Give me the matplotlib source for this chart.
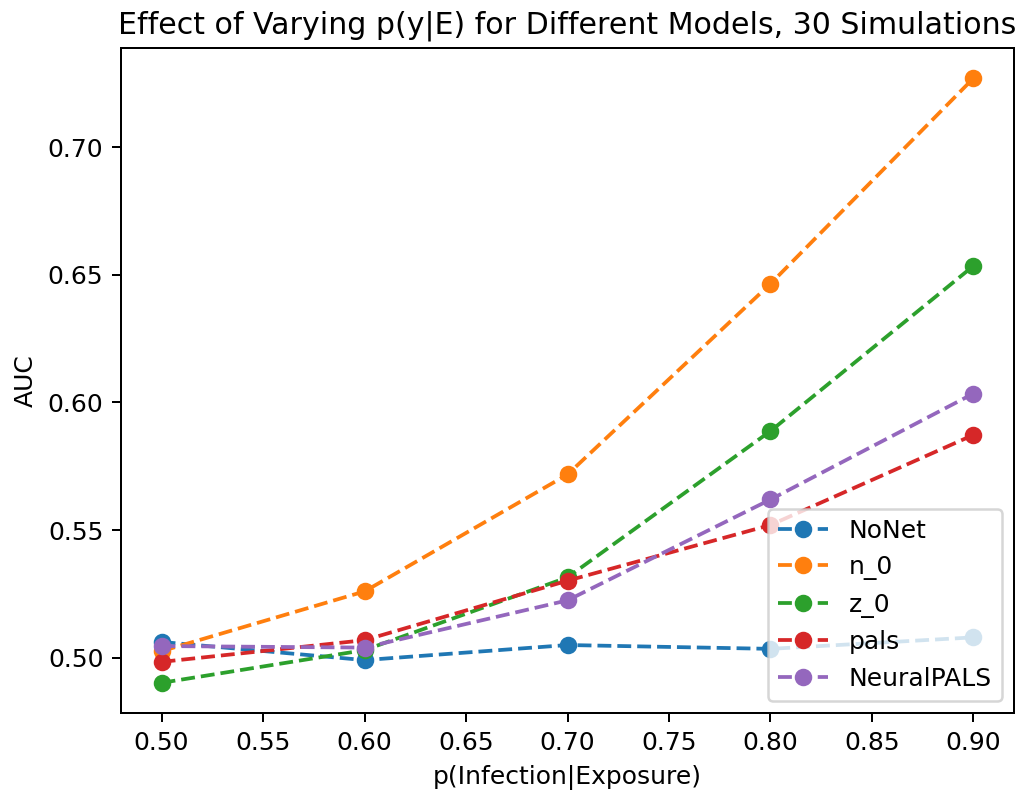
import numpy as np
from matplotlib import pyplot as plt

# p(Infection|Exposure) values and mean AUC for each model
probs = [0.5, 0.6, 0.7, 0.8, 0.9]
nonet = [0.5062, 0.4991, 0.5050, 0.5035, 0.5080]
n_0 = [0.5026, 0.5260, 0.5718, 0.6465, 0.7270]
z_0 = [0.4902, 0.5030, 0.5315, 0.5888, 0.6535]
pals = [0.4984, 0.5069, 0.5302, 0.5520, 0.5873]
neural_pals = [0.5046, 0.5040, 0.5225, 0.5620, 0.6035]

labels = ["NoNet", "n_0", "z_0", "pals", "NeuralPALS"]
series = [nonet, n_0, z_0, pals, neural_pals]

fig = plt.figure(figsize=(1021 / 180, 795 / 180), dpi=180)
ax = fig.add_axes([0.1185, 0.1031, 0.8747, 0.8365])

for lab, vals in zip(labels, series):
    ax.plot(probs, vals, 'o--', label=lab, markersize=6)

ax.set_title("Effect of Varying p(y|E) for Different Models, 30 Simulations")
ax.set_xlabel("p(Infection|Exposure)")
ax.set_ylabel("AUC")
ax.set_xticks(np.arange(0.5, 0.91, 0.05))
ax.set_yticks([0.50, 0.55, 0.60, 0.65, 0.70])
ax.xaxis.set_major_formatter(plt.FormatStrFormatter('%.2f'))
ax.yaxis.set_major_formatter(plt.FormatStrFormatter('%.2f'))
ax.legend(loc='lower right')

fig.savefig("out.png", dpi=180)
